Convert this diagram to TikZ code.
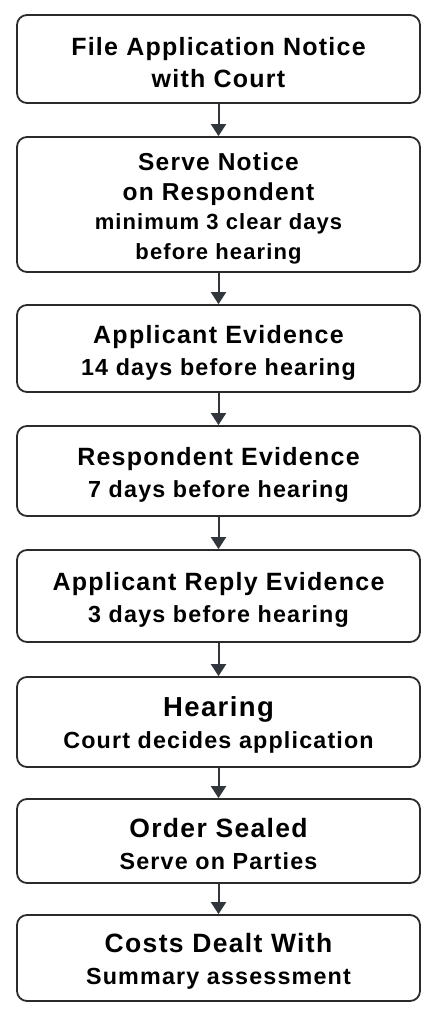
\documentclass[tikz,border=0pt]{standalone}
\usepackage{fontspec}
\setmainfont{Liberation Sans}[LetterSpace=5]
\usepackage{xcolor}
\usepackage{tikz}
\usetikzlibrary{arrows.meta}
\definecolor{boxline}{HTML}{2B2B2B}
\definecolor{arrowgrey}{HTML}{30363B}
\newcommand{\topstrut}{\rule{0pt}{26pt}}
\newcommand{\subline}[1]{{\fontsize{23.3}{32}\selectfont #1}}
\newcommand{\midline}[1]{{\fontsize{26.5}{32}\selectfont #1}}
\newcommand{\bigline}[1]{{\fontsize{27.5}{33}\selectfont #1}}
\tikzset{
  stepbox/.style={draw=boxline, line width=1.8pt, rounded corners=10pt,
    minimum width=403pt, inner sep=0pt, align=center,
    font=\bfseries\fontsize{25}{32}\selectfont},
  flow/.style={draw=arrowgrey, line width=2pt,
    -{Triangle[width=15pt,length=12pt]}}
}
\begin{document}
\begin{tikzpicture}[x=1pt,y=-1pt]
    \useasboundingbox (0,0) rectangle (437,1019);
    \node[stepbox, minimum height=88pt] (file) at (218.5,59)
      {\topstrut File Application Notice\\with Court};
    \node[stepbox, minimum height=135pt, font=\bfseries\fontsize{24.5}{29.5}\selectfont] (serve) at (218.5,204.5)
      {\topstrut Serve Notice\\on Respondent\\{\fontsize{22}{29}\selectfont minimum 3 clear days}\\{\fontsize{22}{29}\selectfont before hearing}};
    \node[stepbox, minimum height=87pt] (appev) at (218.5,348.5)
      {\topstrut Applicant Evidence\\\subline{14 days before hearing}};
    \node[stepbox, minimum height=90pt] (respev) at (218.5,471)
      {\topstrut Respondent Evidence\\\subline{7 days before hearing}};
    \node[stepbox, minimum height=92pt] (reply) at (218.5,596)
      {\topstrut Applicant Reply Evidence\\\subline{3 days before hearing}};
    \node[stepbox, minimum height=90pt] (hearing) at (218.5,722)
      {\topstrut\bigline{Hearing}\\\subline{Court decides application}};
    \node[stepbox, minimum height=84pt] (order) at (218.5,841)
      {\topstrut\midline{Order Sealed}\\\subline{Serve on Parties}};
    \node[stepbox, minimum height=86pt] (costs) at (218.5,958)
      {\topstrut\midline{Costs Dealt With}\\\subline{Summary assessment}};
    \draw[flow] (file) -- (serve);
    \draw[flow] (serve) -- (appev);
    \draw[flow] (appev) -- (respev);
    \draw[flow] (respev) -- (reply);
    \draw[flow] (reply) -- (hearing);
    \draw[flow] (hearing) -- (order);
    \draw[flow] (order) -- (costs);
\end{tikzpicture}
\end{document}
